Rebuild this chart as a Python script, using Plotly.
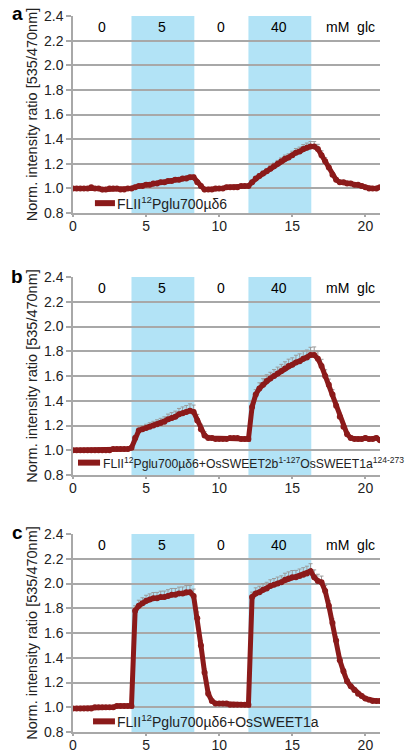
import plotly.graph_objects as go
from plotly.subplots import make_subplots

# ---------------- data ----------------
TIME = [0, 0.25, 0.5, 0.75, 1, 1.25, 1.5, 1.75, 2, 2.25, 2.5, 2.75, 3, 3.25, 3.5, 3.75,
        4, 4.25, 4.5, 4.75, 5, 5.25, 5.5, 5.75, 6, 6.25, 6.5, 6.75, 7, 7.25, 7.5, 7.75, 8,
        8.25, 8.5, 8.75, 9, 9.25, 9.5, 9.75, 10, 10.25, 10.5, 10.75, 11, 11.25, 11.5, 11.75, 12,
        12.25, 12.5, 12.75, 13, 13.25, 13.5, 13.75, 14, 14.25, 14.5, 14.75, 15, 15.25, 15.5, 15.75, 16, 16.25, 16.5,
        16.75, 17, 17.25, 17.5, 17.75, 18, 18.25, 18.5, 18.75, 19, 19.25, 19.5, 19.75, 20, 20.25, 20.5, 20.75, 21]

RATIO_A = [1.00, 1.00, 1.00, 1.00, 1.00, 1.01, 1.00, 1.00, 0.99, 0.99, 1.00, 1.00, 1.00, 0.99, 0.99, 1.00,
           1.00, 1.01, 1.02, 1.02, 1.03, 1.03, 1.04, 1.04, 1.05, 1.05, 1.06, 1.06, 1.07, 1.07, 1.08, 1.08, 1.09,
           1.09, 1.05, 1.02, 0.99, 0.99, 0.99, 1.00, 1.00, 1.00, 1.01, 1.01, 1.01, 1.01, 1.02, 1.02, 1.02,
           1.05, 1.08, 1.10, 1.12, 1.14, 1.16, 1.18, 1.20, 1.22, 1.24, 1.25, 1.27, 1.29, 1.30, 1.32, 1.33, 1.34, 1.34,
           1.32, 1.27, 1.22, 1.17, 1.11, 1.07, 1.05, 1.05, 1.04, 1.04, 1.03, 1.03, 1.02, 1.01, 1.00, 1.00, 1.00, 1.01]
ERR_A = [0.005, 0.005, 0.005, 0.005, 0.005, 0.005, 0.005, 0.005, 0.005, 0.005, 0.005, 0.005, 0.005, 0.005, 0.005, 0.005,
         0.005, 0.01, 0.01, 0.01, 0.012, 0.012, 0.012, 0.013, 0.013, 0.014, 0.014, 0.015, 0.015, 0.015, 0.016, 0.016, 0.017,
         0.017, 0.015, 0.01, 0.008, 0.006, 0.006, 0.006, 0.006, 0.006, 0.006, 0.006, 0.006, 0.006, 0.006, 0.006, 0.006,
         0.012, 0.015, 0.018, 0.02, 0.022, 0.024, 0.025, 0.027, 0.028, 0.03, 0.031, 0.032, 0.034, 0.035, 0.036, 0.038, 0.04, 0.04,
         0.038, 0.035, 0.03, 0.025, 0.02, 0.018, 0.016, 0.015, 0.014, 0.013, 0.012, 0.011, 0.01, 0.01, 0.01, 0.01, 0.01, 0.01]

RATIO_B = [1.00, 1.00, 1.00, 1.00, 1.00, 1.00, 1.00, 1.00, 1.00, 1.00, 1.00, 1.01, 1.01, 1.01, 1.01, 1.01,
           1.02, 1.10, 1.16, 1.17, 1.18, 1.19, 1.20, 1.21, 1.22, 1.23, 1.25, 1.26, 1.27, 1.29, 1.30, 1.31, 1.32,
           1.31, 1.24, 1.17, 1.12, 1.10, 1.10, 1.09, 1.09, 1.09, 1.09, 1.10, 1.10, 1.10, 1.09, 1.09, 1.09,
           1.35, 1.45, 1.50, 1.53, 1.56, 1.58, 1.60, 1.62, 1.64, 1.66, 1.68, 1.69, 1.71, 1.72, 1.74, 1.75, 1.77, 1.77,
           1.74, 1.68, 1.60, 1.53, 1.45, 1.36, 1.27, 1.19, 1.13, 1.10, 1.09, 1.09, 1.09, 1.10, 1.09, 1.09, 1.10, 1.08]
ERR_B = [0.006, 0.006, 0.006, 0.006, 0.006, 0.006, 0.006, 0.006, 0.006, 0.006, 0.006, 0.006, 0.006, 0.006, 0.006, 0.006,
         0.01, 0.02, 0.03, 0.03, 0.03, 0.032, 0.034, 0.036, 0.038, 0.04, 0.042, 0.044, 0.046, 0.048, 0.05, 0.052, 0.055,
         0.055, 0.05, 0.04, 0.03, 0.02, 0.015, 0.012, 0.01, 0.01, 0.01, 0.01, 0.01, 0.01, 0.01, 0.01, 0.01,
         0.03, 0.04, 0.045, 0.048, 0.05, 0.05, 0.052, 0.052, 0.054, 0.055, 0.056, 0.057, 0.058, 0.059, 0.06, 0.06, 0.062, 0.065,
         0.06, 0.055, 0.05, 0.045, 0.04, 0.035, 0.03, 0.025, 0.02, 0.018, 0.016, 0.015, 0.014, 0.013, 0.012, 0.012, 0.012, 0.012]

RATIO_C = [0.99, 0.99, 0.99, 0.99, 0.99, 0.99, 1.00, 1.00, 1.00, 1.00, 1.00, 1.00, 1.01, 1.01, 1.01, 1.01,
           1.01, 1.78, 1.82, 1.84, 1.86, 1.87, 1.88, 1.88, 1.89, 1.89, 1.90, 1.91, 1.91, 1.92, 1.92, 1.93, 1.93,
           1.90, 1.72, 1.50, 1.28, 1.11, 1.05, 1.03, 1.03, 1.03, 1.03, 1.02, 1.02, 1.02, 1.02, 1.02, 1.02,
           1.89, 1.92, 1.93, 1.95, 1.96, 1.98, 1.99, 2.00, 2.01, 2.03, 2.04, 2.05, 2.05, 2.06, 2.07, 2.08, 2.10, 2.05,
           2.02, 2.01, 1.94, 1.82, 1.68, 1.54, 1.38, 1.29, 1.21, 1.17, 1.14, 1.11, 1.09, 1.07, 1.06, 1.05, 1.05, 1.05]
ERR_C = [0.006, 0.006, 0.006, 0.006, 0.006, 0.006, 0.006, 0.006, 0.006, 0.006, 0.006, 0.006, 0.006, 0.006, 0.006, 0.006,
         0.01, 0.04, 0.045, 0.045, 0.045, 0.046, 0.047, 0.048, 0.048, 0.049, 0.05, 0.05, 0.05, 0.051, 0.052, 0.053, 0.055,
         0.055, 0.05, 0.04, 0.03, 0.02, 0.012, 0.01, 0.008, 0.008, 0.008, 0.008, 0.008, 0.008, 0.008, 0.008, 0.008,
         0.04, 0.045, 0.048, 0.05, 0.05, 0.05, 0.05, 0.052, 0.052, 0.053, 0.054, 0.055, 0.056, 0.057, 0.058, 0.06, 0.06, 0.06,
         0.055, 0.05, 0.045, 0.04, 0.035, 0.03, 0.025, 0.022, 0.02, 0.018, 0.016, 0.014, 0.012, 0.012, 0.01, 0.01, 0.01, 0.01]

STIM_START = [4, 12]
STIM_END = [8.3, 16.3]
PERIOD_X = [2, 6.1, 10.1, 14.1, 19]
PERIOD_LABELS = ["0", "5", "0", "40", "mM\u00a0\u00a0glc"]
X_TICKS = [0, 5, 10, 15, 20]
Y_TICKS = [0.8, 1.0, 1.2, 1.4, 1.6, 1.8, 2.0, 2.2, 2.4]
SERIES_NAMES = [
    "FLII<sup>12</sup>Pglu700µδ6",
    "FLII<sup>12</sup>Pglu700µδ6+OsSWEET2b<sup>1-127</sup>OsSWEET1a<sup>124-273</sup>",
    "FLII<sup>12</sup>Pglu700µδ6+OsSWEET1a",
]
PANEL_LETTERS = ["a", "b", "c"]
RATIOS = [RATIO_A, RATIO_B, RATIO_C]
ERRORS = [ERR_A, ERR_B, ERR_C]

# ---------------- style ----------------
OFF = 8                      # default page body margin
SW, SH = 418, 751            # screen size
W, H = SW - OFF, SH - OFF    # figure size
PL, PR = 73, 380             # plot left/right in screen px
ML, MR = PL - OFF, W - (PR - OFF)
PANEL_PX = [(16, 213), (277, 475), (534, 732)]   # screen px of 2.4 and 0.8 lines
MT = PANEL_PX[0][0] - OFF
MB = H - (PANEL_PX[2][1] - OFF)
plot_h = H - MT - MB
plot_w = W - ML - MR

RED = "#8B1A1A"
GRID = "#a8a8a8"
BAND = "#b2e3f6"
FONT = "Liberation Sans, Arial, sans-serif"


def py(px):
    """screen y px -> paper y"""
    return (H - MB - (px - OFF)) / plot_h


def px_(sx):
    """screen x px -> paper x"""
    return (sx - OFF - ML) / plot_w


fig = make_subplots(rows=3, cols=1)

for i in range(3):
    r = i + 1
    fig.add_trace(go.Scatter(
        x=TIME, y=RATIOS[i], mode="lines+markers",
        line=dict(color=RED, width=5),
        marker=dict(color=RED, size=6),
        error_y=dict(type="data", symmetric=False, array=ERRORS[i],
                     arrayminus=[0] * len(ERRORS[i]),
                     color="#9a9a9a", thickness=1, width=2),
        showlegend=False, name=SERIES_NAMES[i],
    ), row=r, col=1)

    xa = "x" if i == 0 else f"x{r}"
    ya = "y" if i == 0 else f"y{r}"

    for s, e in zip(STIM_START, STIM_END):
        fig.add_shape(type="rect", xref=xa, yref=ya, x0=s, x1=e, y0=0.8, y1=2.4,
                      fillcolor=BAND, line=dict(width=0), layer="below")

    for xx, lab in zip(PERIOD_X, PERIOD_LABELS):
        fig.add_annotation(x=xx, y=2.31, xref=xa, yref=ya, text=lab, showarrow=False,
                           font=dict(size=14, color="black", family=FONT))

    top, bot = PANEL_PX[i]
    fig.update_yaxes(row=r, col=1, domain=[py(bot), py(top)], range=[0.8, 2.4001], tickvals=Y_TICKS,
                     tickformat=".1f", showgrid=True, gridcolor=GRID, gridwidth=1.5,
                     showline=True, linecolor=GRID, linewidth=1.5,
                     ticks="outside", ticklen=5, tickcolor=GRID, tickwidth=1.5,
                     ticklabeloverflow="allow",
                     tickfont=dict(size=14, color="#222", family=FONT),
                     title=dict(text="Norm. intensity ratio [535/470nm]", standoff=3,
                                font=dict(size=14.5, color="#222", family=FONT)),
                     zeroline=False)
    fig.update_xaxes(row=r, col=1, range=[0, 21], tickvals=X_TICKS, showgrid=False,
                     showline=True, linecolor=GRID, linewidth=1.5,
                     ticks="outside", ticklen=2, tickcolor=GRID, tickwidth=1.5,
                     ticklabelstandoff=-3, ticklabeloverflow="allow",
                     tickfont=dict(size=14, color="#222", family=FONT), zeroline=False)

    # legend (manual, inside plot)
    leg_x = [(1.5, 2.87, 3.0), (0.34, 1.85, 2.05), (1.37, 2.87, 3.0)][i]
    leg_y = [0.88, 0.90, 0.886][i]
    fig.add_shape(type="line", xref=xa, yref=ya, x0=leg_x[0], x1=leg_x[1], y0=leg_y, y1=leg_y,
                  line=dict(color=RED, width=6))
    fig.add_annotation(x=leg_x[2], y=leg_y, xref=xa, yref=ya, text=SERIES_NAMES[i],
                       showarrow=False, xanchor="left", yanchor="middle", xshift=-2,
                       font=dict(size=14 if i != 1 else 12.2, color="#222", family=FONT))

    # panel letter
    ly = [14, 276, 532][i]
    fig.add_annotation(x=px_(17), y=py(ly),
                       xref="paper", yref="paper", text=f"<b>{PANEL_LETTERS[i]}</b>",
                       showarrow=False, xanchor="center", yanchor="middle",
                       font=dict(size=19, color="black", family=FONT))

fig.update_layout(width=W, height=H, margin=dict(l=ML, r=MR, t=MT, b=MB, autoexpand=False),
                  plot_bgcolor="white", paper_bgcolor="white", showlegend=False)

fig.write_html("out.html")
